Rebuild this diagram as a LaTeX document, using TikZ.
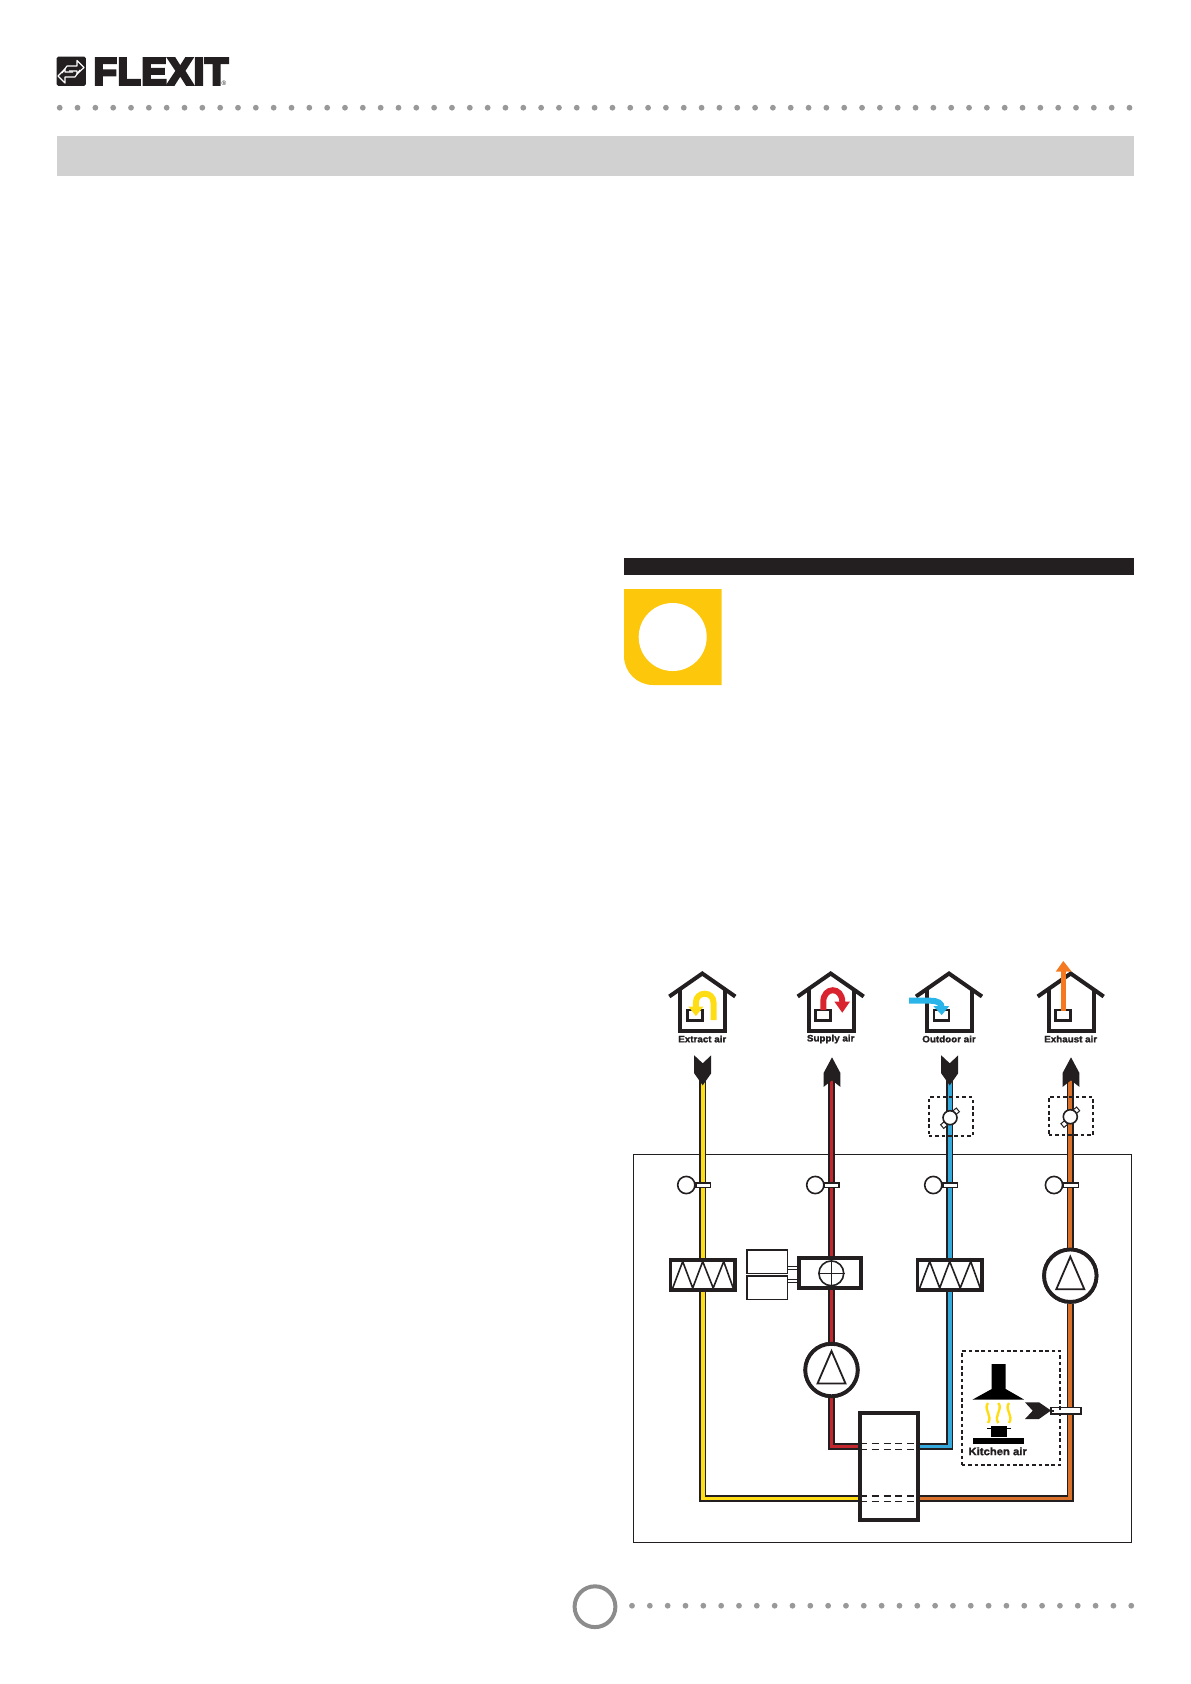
\documentclass[tikz,border=0pt]{standalone}
\usepackage{fontspec}
\setmainfont{Liberation Sans}
\newfontfamily\logofont[FakeBold=7, LetterSpace=2]{Liberation Sans Bold}
\newfontfamily\labelfont[FakeBold=1.5, FakeStretch=1.05]{Liberation Sans Bold}
\usetikzlibrary{arrows.meta, positioning, shapes.geometric, calc}
\definecolor{inkblack}{HTML}{231F20}
\definecolor{dotgrey}{HTML}{999999}
\definecolor{bargrey}{HTML}{D1D1D1}
\definecolor{ringgrey}{HTML}{8C8C8C}
\definecolor{signyellow}{HTML}{FDC70C}
\definecolor{extractcol}{HTML}{FFDD15}
\definecolor{supplycol}{HTML}{C1272D}
\definecolor{outdoorcol}{HTML}{35A8DC}
\definecolor{exhaustcol}{HTML}{D9712A}
\definecolor{arrowred}{HTML}{D9232E}
\definecolor{arrowblue}{HTML}{29B5EA}
\definecolor{arroworange}{HTML}{F47920}
\tikzset{
  duct/.style={line width=0.75mm, draw=inkblack, double=#1, double distance=1.9mm},
  thinline/.style={line width=0.8mm, draw=inkblack},
  filterbox/.style={draw=inkblack, line width=1.9mm, fill=white, minimum width=32.2mm, minimum height=15.2mm, inner sep=0pt},
  heaterbox/.style={draw=inkblack, line width=1.9mm, fill=white, minimum width=30.8mm, minimum height=15.1mm, inner sep=0pt},
  exchangerbox/.style={draw=inkblack, line width=1.9mm, fill=white, minimum width=28.8mm, minimum height=53.5mm, inner sep=0pt},
  fancircle/.style={circle, draw=inkblack, line width=1.9mm, fill=white, minimum size=26.2mm, inner sep=0pt},
  sensorcircle/.style={circle, thinline, fill=white, minimum size=8.6mm, inner sep=0pt},
  sleevebox/.style={thinline, fill=white, minimum width=7.4mm, minimum height=2.3mm, inner sep=0pt},
  damperbox/.style={thinline, line width=1mm, dash pattern=on 1.8mm off 1.4mm, minimum width=22mm, minimum height=19.3mm, inner sep=0pt},
  tinysquare/.style={draw=inkblack, line width=0.5mm, fill=white, minimum size=2.4mm, inner sep=0pt, rotate=40},
  airlabel/.style={font=\labelfont\fontsize{13.3pt}{13.3pt}\selectfont, text=inkblack, inner sep=0pt},
  greydot/.style={circle, fill=dotgrey, minimum size=2.9mm, inner sep=0pt},
  pics/house/.style={code={
    \draw[inkblack, line width=2mm] (-33,25) -- (0,2) -- (33,25);
    \draw[inkblack, line width=2mm] (-22,17) -- (-22,59) -- (23,59) -- (23,17);
    \draw[inkblack, line width=1.4mm] (-15,38.5) rectangle (0,49);
  }},
  pics/arrowdown/.style={code={
    \fill[inkblack] (-8.5,0) -- (0,8) -- (8.5,0) -- (8.5,18) -- (0,30) -- (-8.5,18) -- cycle;
  }},
  pics/arrowup/.style={code={
    \fill[inkblack] (0,0) -- (8.3,15.5) -- (8.3,29.5) -- (0,23) -- (-8.3,29.5) -- (-8.3,15.5) -- cycle;
  }},
  pics/zigzag/.style={code={
    \draw[thinline] (-30,13) -- (-20,-13.5) -- (-10,13) -- (0,-13.5) -- (10.5,13) -- (21,-13.5) -- (30.5,13);
  }},
  pics/fanmark/.style={code={
    \draw[thinline, line width=0.9mm] (-14,13.5) -- (14,13.5) -- (0,-19) -- cycle;
  }},
}
\begin{document}
\begin{tikzpicture}[>=Stealth, x=0.5mm, y=-0.5mm]
  \useasboundingbox (0,0) rectangle (1191,1684);

  % Page head
  \node[fill=inkblack, rounded corners=0.8mm, minimum width=14.6mm, minimum height=14.6mm, inner sep=0pt] (logobox) at (71.3,71.2) {};
  \draw[white, line width=0.6mm, line join=round] (62,73) -- (67,66) -- (77,66) -- (77,60.5) -- (84,67.5) -- (77,74) -- (77,71) -- (69,71);
  \draw[white, line width=0.6mm, line join=round] (80,70) -- (75,77) -- (65,77) -- (65,83) -- (58,76) -- (65,69) -- (65,72) -- (73,72);
  \node[font=\logofont\fontsize{54pt}{54pt}\selectfont, text=inkblack, anchor=west, inner sep=0pt] (logotext) at (93.5,71.5) {FLEXIT};
  \node[font=\fontsize{9pt}{9pt}\selectfont, text=inkblack, inner sep=0pt] (logomark) at (224,83.5) {®};
  \foreach \i in {0,...,60} {
    \node[greydot] (headdot\i) at (59.7+\i*17.83, 107.7) {};
  }
  \node[fill=bargrey, minimum width=538.5mm, minimum height=20mm, inner sep=0pt] (headbar) at (595.5,156) {};

  % Note sign
  \node[fill=inkblack, minimum width=255mm, minimum height=8.5mm, inner sep=0pt] (notebar) at (879,566.5) {};
  \fill[signyellow] (624,589) -- (721.7,589) -- (721.7,685) -- (653,685) .. controls (637,685) and (624,672) .. (624,656) -- cycle;
  \node[circle, fill=white, minimum size=34mm, inner sep=0pt] (notecircle) at (672.7,637) {};

  % Air houses
  \pic at (702.3,971.5) {house};
  \pic at (830.7,971.5) {house};
  \pic at (949,971.5) {house};
  \pic at (1070.7,971.5) {house};
  \node[airlabel] (extractlabel) at (702.3,1039) {Extract air};
  \node[airlabel] (supplylabel) at (830.7,1039) {Supply air};
  \node[airlabel] (outdoorlabel) at (949,1039) {Outdoor air};
  \node[airlabel] (exhaustlabel) at (1070.7,1039) {Exhaust air};

  \draw[extractcol, line width=3mm] (713.5,1020) -- (713.5,1002.5) .. controls (713.5,990.8) and (695.9,990.8) .. (695.9,1002.5) -- (695.9,1007);
  \fill[extractcol] (688.3,1006.5) -- (703.5,1006.5) -- (695.9,1016) -- cycle;
  \draw[arrowred, line width=3mm] (823.3,1010) -- (823.3,1002) .. controls (823.3,986.3) and (842.3,986.3) .. (842.3,1002);
  \fill[arrowred] (834.3,1001.5) -- (850,1001.5) -- (842.3,1012.7) -- cycle;
  \draw[arrowblue, line width=3mm] (909,1000.7) -- (930,1000.7) .. controls (938,1000.7) and (941.7,1003) .. (941.7,1008);
  \fill[arrowblue] (933.3,1006) -- (949.3,1006) -- (941.7,1015) -- cycle;
  \draw[arroworange, line width=2.5mm] (1063.3,1011) -- (1063.3,971);
  \fill[arroworange] (1055.7,971.7) -- (1071.7,971.7) -- (1063.3,961) -- cycle;

  % Casing
  \node[draw=inkblack, line width=0.5mm, minimum width=249mm, minimum height=194mm, inner sep=0pt] (casing) at (882,1348) {};

  % Free ends and ports
  \coordinate (extracttop) at (702.7,1075);
  \coordinate (supplytop) at (831.5,1075);
  \coordinate (outdoortop) at (949.7,1075);
  \coordinate (exhausttop) at (1070.3,1075);
  \coordinate (extractport) at (860,1498.5);
  \coordinate (exhaustport) at (918,1498.5);
  \coordinate (supplyport) at (860,1446.5);
  \coordinate (outdoorport) at (918,1446.5);

  % Components
  \node[filterbox] (extractfilter) at (702.7,1275) {};
  \node[filterbox] (outdoorfilter) at (949.7,1275) {};
  \node[heaterbox] (heater) at (830,1273) {};
  \node[fancircle] (supplyfan) at (831.5,1370) {};
  \node[fancircle] (exhaustfan) at (1070.3,1275.7) {};
  \node[exchangerbox] (exchanger) at (889,1466.7) {};

  % Ducts
  \draw[duct=extractcol] (extracttop) -- (extractfilter);
  \draw[duct=extractcol] (extractfilter) |- (extractport);
  \draw[duct=supplycol] (supplytop) -- (supplytop |- heater.north);
  \draw[duct=supplycol] (supplytop |- heater.south) -- (supplyfan);
  \draw[duct=supplycol] (supplyfan) |- (supplyport);
  \draw[duct=outdoorcol] (outdoortop) -- (outdoorfilter);
  \draw[duct=outdoorcol] (outdoorfilter) |- (outdoorport);
  \draw[duct=exhaustcol] (exhausttop) -- (exhaustfan);
  \draw[duct=exhaustcol] (exhaustfan) |- (exhaustport);

  % Components again, over the ducts
  \node[filterbox] at (extractfilter) {};
  \node[filterbox] at (outdoorfilter) {};
  \node[heaterbox] at (heater) {};
  \node[fancircle] at (supplyfan) {};
  \node[fancircle] at (exhaustfan) {};
  \node[exchangerbox] at (exchanger) {};
  \pic at (extractfilter) {zigzag};
  \pic at (outdoorfilter) {zigzag};
  \pic at (supplyfan) {fanmark};
  \pic at (exhaustfan) {fanmark};
  \node[circle, thinline, minimum size=12.4mm, inner sep=0pt] (heatermark) at (831.3,1273.3) {};
  \draw[thinline, line width=0.6mm] (heatermark.north) -- (heatermark.south);
  \draw[thinline, line width=0.6mm] (heatermark.west) -- (heatermark.east);

  % Actuators
  \node[thinline, fill=white, minimum width=20.3mm, minimum height=11.7mm, inner sep=0pt] (actuatora) at (767,1261.7) {};
  \node[thinline, fill=white, minimum width=20.3mm, minimum height=11.7mm, inner sep=0pt] (actuatorb) at (767,1287.7) {};
  \foreach \y in {1266,1269.3,1279.3,1282.7} {
    \draw[line width=0.5mm, inkblack] (actuatora.east |- 0,\y) -- (heater.west |- 0,\y);
  }

  % Exchanger passes
  \foreach \y/\s in {1443.5/a,1449.5/b} {
    \draw[thinline, dash pattern=on 3.5mm off 2.4mm] (supplyport |- 0,\y) -- (outdoorport |- 0,\y);
  }
  \foreach \y/\s in {1495.7/a,1501.3/b} {
    \draw[thinline, dash pattern=on 3.5mm off 2.4mm] (extractport |- 0,\y) -- (exhaustport |- 0,\y);
  }

  % Duct ends
  \pic at (702.7,1055.3) {arrowdown};
  \pic at (832,1057.3) {arrowup};
  \pic at (949.7,1055.3) {arrowdown};
  \pic at (1071,1057.3) {arrowup};

  % Sensors
  \foreach \n/\cx/\sx in {extract/686.3/703.2, supply/815.3/831.8, outdoor/933.3/950.2, exhaust/1054/1071} {
    \node[sleevebox] (\n sleeve) at (\sx,1185) {};
    \node[sensorcircle] (\n sensor) at (\cx,1185) {};
  }

  % Dampers
  \foreach \n/\cx/\cy/\bx/\by in {outdoor/950/1117.7/950.7/1116.7, exhaust/1070.3/1116.7/1070.7/1116} {
    \node[damperbox] (\n box) at (\bx,\by) {};
    \node[tinysquare] (\n keya) at (\cx+6,\cy-6.3) {};
    \node[tinysquare] (\n keyb) at (\cx-6,\cy+7.3) {};
    \node[circle, thinline, fill=white, minimum size=7mm, inner sep=0pt] (\n damper) at (\cx,\cy) {};
  }

  % Kitchen
  \fill[black] (991.7,1364) -- (1005.7,1364) -- (1005.7,1389) -- (1024,1399.5) -- (972.7,1399.5) -- (991.7,1389) -- cycle;
  \foreach \x/\b in {988/-1, 998.3/1, 1009/-1} {
    \draw[extractcol, line width=1.2mm] (\x,1403) .. controls (\x+\b*5,1409) and (\x-\b*5,1416) .. (\x,1423);
  }
  \fill[black] (991,1426) rectangle (1007.3,1436.7);
  \draw[black, line width=0.5mm] (987.3,1428.7) -- (1011,1428.7);
  \fill[black] (972.7,1438) rectangle (1024,1444);
  \node[font=\labelfont\fontsize{15.3pt}{15.3pt}\selectfont, text=inkblack, inner sep=0pt] (kitchenlabel) at (997.7,1451.3) {Kitchen air};
  \node[thinline, fill=white, minimum width=15mm, minimum height=3.3mm, inner sep=0pt] (kitchensleeve) at (1065.7,1410.7) {};
  \fill[inkblack] (1025,1402.3) -- (1039,1402.3) -- (1051,1410.5) -- (1039,1419) -- (1025,1419) -- (1032.7,1410.7) -- cycle;
  \draw[thinline, dash pattern=on 1.6mm off 1.3mm] (1051,1410.7) -- (1056,1410.7);
  \node[damperbox, minimum width=49.2mm, minimum height=57.2mm] (kitchenbox) at (1011,1408) {};

  % Page foot
  \node[circle, draw=ringgrey, line width=2mm, minimum size=20.4mm, inner sep=0pt] (pagering) at (595,1606.7) {};
  \foreach \i in {0,...,28} {
    \node[greydot] (footdot\i) at (632+\i*17.83, 1605.7) {};
  }
\end{tikzpicture}
\end{document}
